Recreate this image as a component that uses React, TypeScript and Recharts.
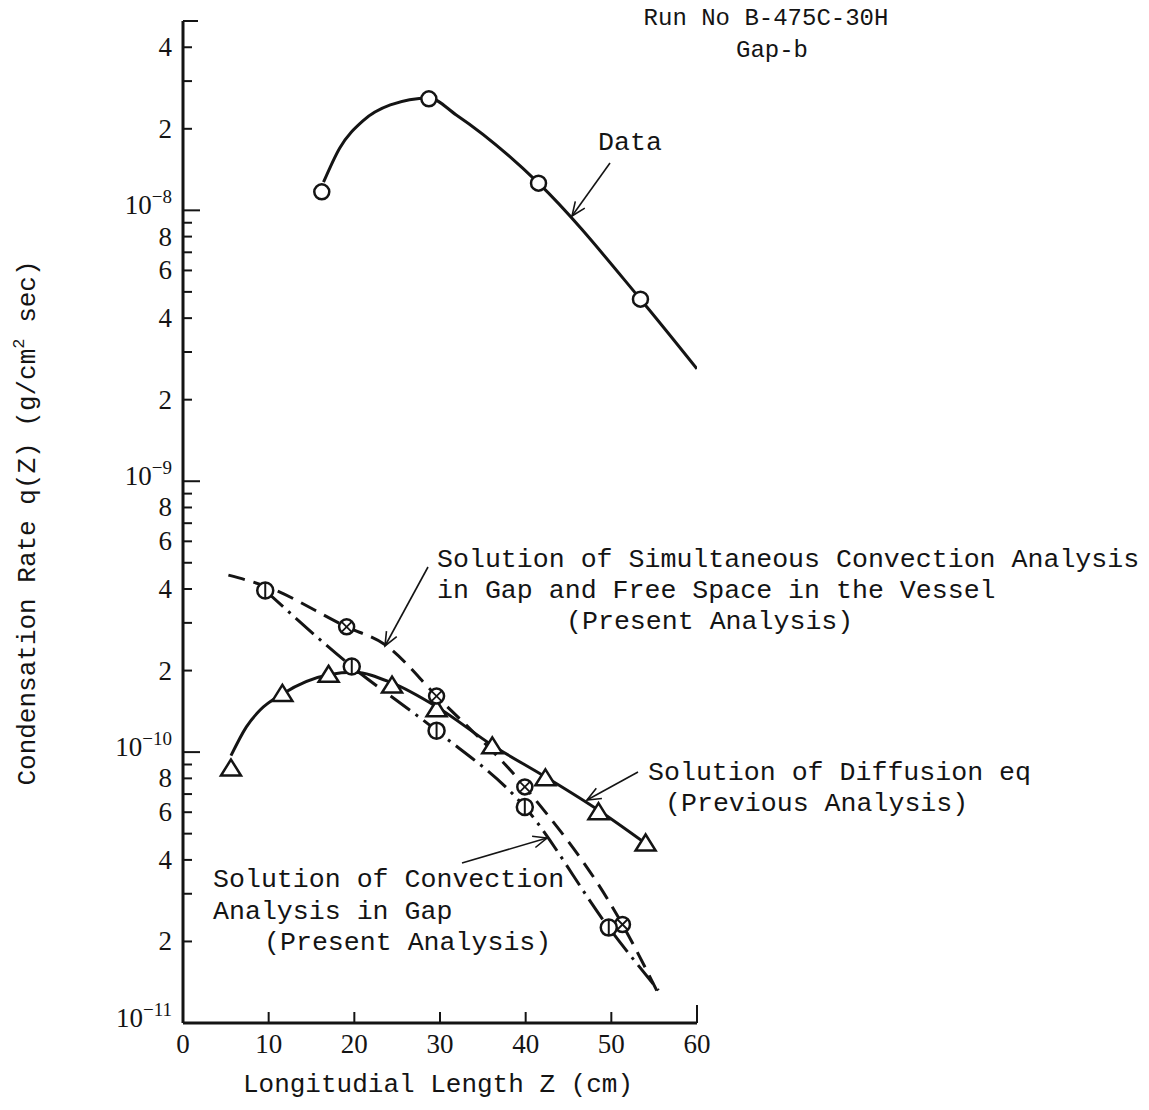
import React from "react";
import { ComposedChart, Line, Scatter, XAxis, YAxis } from "recharts";

const dataCurve = [
  { x: 16.4, y: 1.27e-8 },
  { x: 18.3, y: 1.7e-8 },
  { x: 21.0, y: 2.14e-8 },
  { x: 24.2, y: 2.45e-8 },
  { x: 28.7, y: 2.6e-8 },
  { x: 31.9, y: 2.25e-8 },
  { x: 41.5, y: 1.26e-8 },
  { x: 53.4, y: 4.7e-9 },
  { x: 60.0, y: 2.6e-9 },
];
const dataPoints = [
  { x: 16.2, y: 1.17e-8 },
  { x: 28.7, y: 2.58e-8 },
  { x: 41.5, y: 1.26e-8 },
  { x: 53.4, y: 4.7e-9 },
];

// diffusion eq (previous analysis), triangles
const diffusionCurve = [
  { x: 5.6, y: 9.7e-11 },
  { x: 7.4, y: 1.24e-10 },
  { x: 9.0, y: 1.43e-10 },
  { x: 11.6, y: 1.64e-10 },
  { x: 17.0, y: 1.93e-10 },
  { x: 20.0, y: 1.97e-10 },
  { x: 24.4, y: 1.8e-10 },
  { x: 29.6, y: 1.47e-10 },
  { x: 36.1, y: 1.06e-10 },
  { x: 42.3, y: 8.1e-11 },
  { x: 48.5, y: 6.1e-11 },
  { x: 54.0, y: 4.6e-11 },
];
const diffusionPoints = [
  { x: 5.6, y: 8.7e-11 },
  { x: 11.6, y: 1.64e-10 },
  { x: 17.0, y: 1.93e-10 },
  { x: 24.4, y: 1.76e-10 },
  { x: 29.6, y: 1.44e-10 },
  { x: 36.1, y: 1.05e-10 },
  { x: 42.3, y: 8.0e-11 },
  { x: 48.5, y: 6.0e-11 },
  { x: 54.0, y: 4.6e-11 },
];

// simultaneous convection in gap and free space, crossed circles, dashed
const simultaneousCurve = [
  { x: 5.3, y: 4.5e-10 },
  { x: 9.6, y: 4.1e-10 },
  { x: 19.1, y: 2.9e-10 },
  { x: 23.6, y: 2.49e-10 },
  { x: 29.6, y: 1.61e-10 },
  { x: 39.9, y: 7.44e-11 },
  { x: 51.3, y: 2.31e-11 },
  { x: 55.4, y: 1.3e-11 },
];
const simultaneousPoints = [
  { x: 19.1, y: 2.9e-10 },
  { x: 29.6, y: 1.61e-10 },
  { x: 39.9, y: 7.44e-11 },
  { x: 51.3, y: 2.31e-11 },
];

// convection in gap only, barred circles, dash-dot
const gapCurve = [
  { x: 9.6, y: 3.95e-10 },
  { x: 19.7, y: 2.07e-10 },
  { x: 29.6, y: 1.2e-10 },
  { x: 39.9, y: 6.27e-11 },
  { x: 49.7, y: 2.25e-11 },
  { x: 55.5, y: 1.32e-11 },
];
const gapPoints = [
  { x: 9.6, y: 3.95e-10 },
  { x: 19.7, y: 2.07e-10 },
  { x: 29.6, y: 1.2e-10 },
  { x: 39.9, y: 6.27e-11 },
  { x: 49.7, y: 2.25e-11 },
];

const xTicks = [0, 10, 20, 30, 40, 50, 60];
const yTicks = [
  1e-11, 2e-11, 3e-11, 4e-11, 5e-11, 6e-11, 7e-11, 8e-11, 9e-11,
  1e-10, 2e-10, 3e-10, 4e-10, 5e-10, 6e-10, 7e-10, 8e-10, 9e-10,
  1e-9, 2e-9, 3e-9, 4e-9, 5e-9, 6e-9, 7e-9, 8e-9, 9e-9,
  1e-8, 2e-8, 3e-8, 4e-8, 5e-8,
];
const labelledMantissas = [2, 4, 6, 8];

const W = 1149;
const H = 1110;
const PLOT_LEFT = 183;
const PLOT_RIGHT = 697;
const PLOT_TOP = 21;
const PLOT_BOTTOM = 1023;
const Y_AXIS_W = 80;
const X_AXIS_H = 40;

const INK = "#141414";
const MONO = "'Liberation Mono', 'DejaVu Sans Mono', monospace";
const NUM = "'Liberation Serif', 'DejaVu Serif', serif";

function YTick(props: any) {
  const { y, payload } = props;
  const v = payload.value as number;
  const exp = Math.floor(Math.log10(v) + 1e-9);
  const m = Math.round(v / Math.pow(10, exp));
  const decade = m === 1;
  const top = m === 5 && exp === -8;
  const len = decade ? 17 : top ? 15 : 9;
  let label: React.ReactNode = null;
  if (decade) {
    label = (
      <text x={172} y={y + 4} textAnchor="end" fontFamily={NUM} fontSize={27} fill={INK}>
        <tspan>10</tspan>
        <tspan dy={-11} fontSize={19}>{"\u2212" + Math.abs(exp)}</tspan>
      </text>
    );
  } else if (labelledMantissas.includes(m)) {
    label = (
      <text x={172} y={y} textAnchor="end" dominantBaseline="central" fontFamily={NUM} fontSize={27} fill={INK}>
        {m}
      </text>
    );
  }
  return (
    <g>
      <line x1={PLOT_LEFT} x2={PLOT_LEFT + len} y1={y} y2={y} stroke={INK} strokeWidth={2} />
      {label}
    </g>
  );
}

function XTick(props: any) {
  const { x, payload } = props;
  const len = payload.value === 60 ? 18 : 11;
  return (
    <g>
      <line x1={x} x2={x} y1={PLOT_BOTTOM} y2={PLOT_BOTTOM - len} stroke={INK} strokeWidth={2} />
      <text x={x} y={1044} textAnchor="middle" dominantBaseline="central" fontFamily={NUM} fontSize={27} fill={INK}>
        {payload.value}
      </text>
    </g>
  );
}

function OpenCircle(props: any) {
  const { cx, cy } = props;
  return <circle cx={cx} cy={cy} r={7.5} fill="#fff" stroke={INK} strokeWidth={2.5} />;
}

function BarCircle(props: any) {
  const { cx, cy } = props;
  return (
    <g>
      <circle cx={cx} cy={cy} r={8} fill="#fff" stroke={INK} strokeWidth={2.5} />
      <line x1={cx} x2={cx} y1={cy - 8} y2={cy + 8} stroke={INK} strokeWidth={2} />
    </g>
  );
}

function CrossCircle(props: any) {
  const { cx, cy } = props;
  const d = 5;
  return (
    <g>
      <circle cx={cx} cy={cy} r={7.5} fill="#fff" stroke={INK} strokeWidth={2.5} />
      <line x1={cx - d} x2={cx + d} y1={cy - d} y2={cy + d} stroke={INK} strokeWidth={1.8} />
      <line x1={cx - d} x2={cx + d} y1={cy + d} y2={cy - d} stroke={INK} strokeWidth={1.8} />
    </g>
  );
}

function Triangle(props: any) {
  const { cx, cy } = props;
  return (
    <polygon
      points={`${cx},${cy - 9} ${cx - 10},${cy + 7} ${cx + 10},${cy + 7}`}
      fill="#fff"
      stroke={INK}
      strokeWidth={2.5}
      strokeLinejoin="miter"
    />
  );
}

function Arrow({ x1, y1, x2, y2 }: { x1: number; y1: number; x2: number; y2: number }) {
  const a = Math.atan2(y2 - y1, x2 - x1);
  const l = 15;
  const s = 0.4;
  const h1x = x2 - l * Math.cos(a - s);
  const h1y = y2 - l * Math.sin(a - s);
  const h2x = x2 - l * Math.cos(a + s);
  const h2y = y2 - l * Math.sin(a + s);
  return (
    <g stroke={INK} strokeWidth={1.6} fill="none">
      <line x1={x1} y1={y1} x2={x2} y2={y2} />
      <polyline points={`${h1x},${h1y} ${x2},${y2} ${h2x},${h2y}`} />
    </g>
  );
}

function Note({ x, y, children, anchor = "start", size = 26.6 }: any) {
  return (
    <text x={x} y={y} textAnchor={anchor} dominantBaseline="central" fontFamily={MONO} fontSize={size} fill={INK}>
      {children}
    </text>
  );
}

export default function App() {
  return (
    <div style={{ position: "absolute", left: 0, top: 0, width: W, height: H, background: "#fff" }}>
      <ComposedChart
        width={W}
        height={H}
        margin={{ top: PLOT_TOP, right: W - PLOT_RIGHT, bottom: H - PLOT_BOTTOM - X_AXIS_H, left: PLOT_LEFT - Y_AXIS_W }}
      >
        <XAxis
          type="number"
          dataKey="x"
          domain={[0, 60]}
          ticks={xTicks}
          height={X_AXIS_H}
          allowDataOverflow
          axisLine={{ stroke: INK, strokeWidth: 3 }}
          tickLine={false}
          tick={<XTick />}
          interval={0}
        />
        <YAxis
          type="number"
          dataKey="y"
          scale="log"
          domain={[1e-11, 5e-8]}
          ticks={yTicks}
          width={Y_AXIS_W}
          allowDataOverflow
          axisLine={{ stroke: INK, strokeWidth: 3 }}
          tickLine={false}
          tick={<YTick />}
          interval={0}
        />
        <Line data={dataCurve} dataKey="y" type="monotone" stroke={INK} strokeWidth={3} dot={false} activeDot={false} isAnimationActive={false} />
        <Line data={diffusionCurve} dataKey="y" type="monotone" stroke={INK} strokeWidth={3} dot={false} activeDot={false} isAnimationActive={false} />
        <Line data={simultaneousCurve} dataKey="y" type="monotone" stroke={INK} strokeWidth={3} strokeDasharray="17 9" dot={false} activeDot={false} isAnimationActive={false} />
        <Line data={gapCurve} dataKey="y" type="monotone" stroke={INK} strokeWidth={3} strokeDasharray="24 7 3 7" dot={false} activeDot={false} isAnimationActive={false} />
        <Scatter data={dataPoints} dataKey="y" shape={<OpenCircle />} isAnimationActive={false} />
        <Scatter data={diffusionPoints} dataKey="y" shape={<Triangle />} isAnimationActive={false} />
        <Scatter data={simultaneousPoints} dataKey="y" shape={<CrossCircle />} isAnimationActive={false} />
        <Scatter data={gapPoints} dataKey="y" shape={<BarCircle />} isAnimationActive={false} />
      </ComposedChart>

      <svg width={W} height={H} style={{ position: "absolute", left: 0, top: 0, pointerEvents: "none" }}>
        <Note x={766} y={18} anchor="middle" size={24}>Run No B-475C-30H</Note>
        <Note x={772} y={50} anchor="middle" size={24}>Gap-b</Note>

        <Note x={598} y={143}>Data</Note>
        <Arrow x1={610} y1={163} x2={572} y2={216} />

        <Note x={437} y={560}>Solution of Simultaneous Convection Analysis</Note>
        <Note x={437} y={591}>in Gap and Free Space in the Vessel</Note>
        <Note x={566} y={622}>(Present Analysis)</Note>
        <Arrow x1={428} y1={567} x2={385} y2={646} />

        <Note x={648} y={773}>Solution of Diffusion eq</Note>
        <Note x={665} y={804}>(Previous Analysis)</Note>
        <Arrow x1={638} y1={772} x2={587} y2={800} />

        <Note x={213} y={880}>Solution of Convection</Note>
        <Note x={213} y={912}>Analysis in Gap</Note>
        <Note x={264} y={943}>(Present Analysis)</Note>
        <Arrow x1={462} y1={863} x2={547} y2={838} />

        <Note x={438} y={1085} anchor="middle" size={26}>Longitudial Length Z (cm)</Note>
        <text
          x={28}
          y={523}
          textAnchor="middle"
          dominantBaseline="central"
          fontFamily={MONO}
          fontSize={26}
          fill={INK}
          transform="rotate(-90 28 523)"
        >
          <tspan>Condensation Rate q(Z)  (g/cm</tspan>
          <tspan dy={-9} fontSize={17}>2</tspan>
          <tspan dy={9}>  sec)</tspan>
        </text>
      </svg>
    </div>
  );
}
